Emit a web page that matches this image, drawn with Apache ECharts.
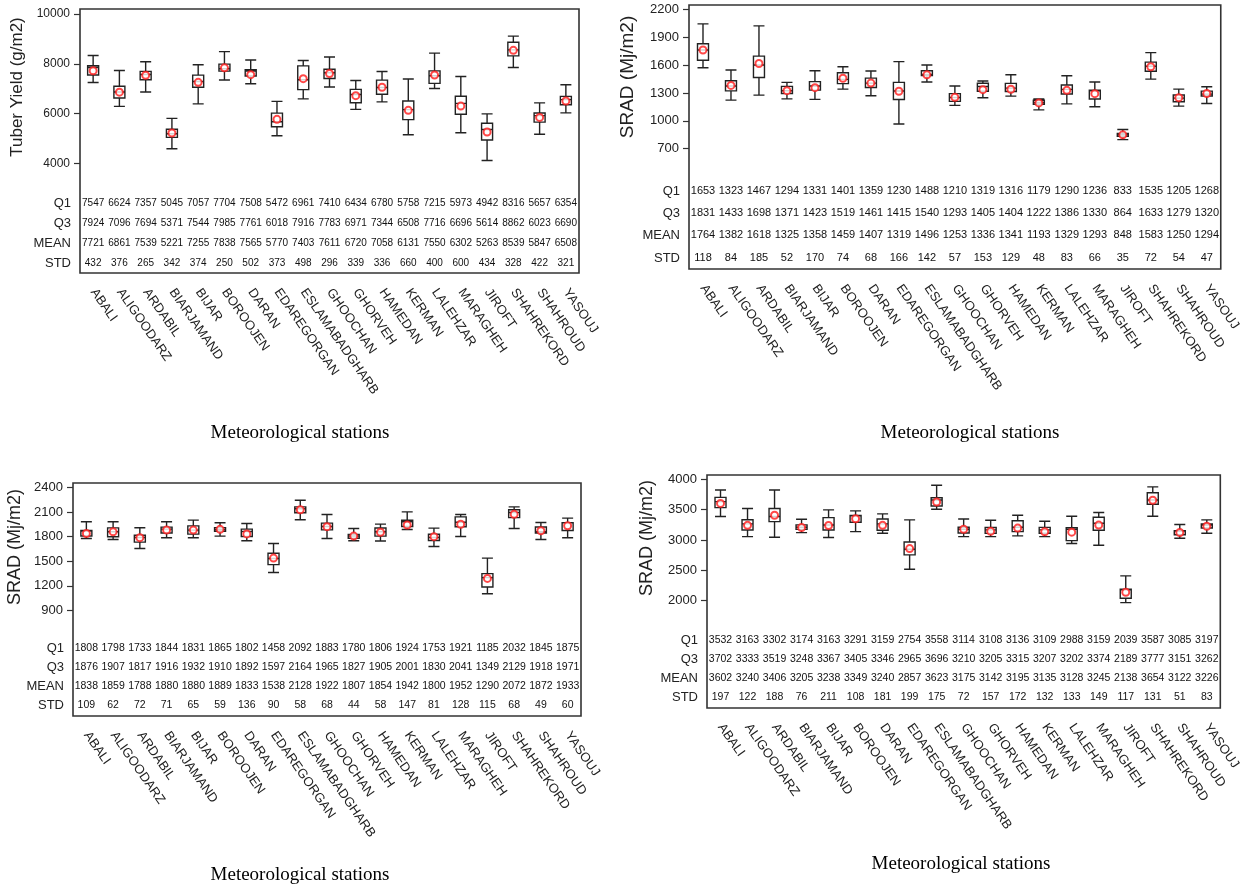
<!DOCTYPE html>
<html>
<head>
<meta charset="utf-8">
<script src="https://cdn.jsdelivr.net/npm/echarts@6/dist/echarts.min.js"></script>
<style>
    html, body { margin: 0; padding: 0; background: #fff; }
    #chart { width: 1243px; height: 888px; }
</style>
</head>
<body>
<div id="chart"></div>
<script>
    var stations = ['ABALI', 'ALIGOODARZ', 'ARDABIL', 'BIARJAMAND', 'BIJAR', 'BOROOJEN', 'DARAN', 'EDAREGORGAN',
        'ESLAMABADGHARB', 'GHOOCHAN', 'GHORVEH', 'HAMEDAN', 'KERMAN', 'LALEHZAR', 'MARAGHEH', 'JIROFT',
        'SHAHREKORD', 'SHAHROUD', 'YASOUJ'];
    var rowNames = ['Q1', 'Q3', 'MEAN', 'STD'];

    // panel 1 - tuber yield
    var yieldTicks = [4000, 6000, 8000, 10000];
    var yieldQ1 = [7547, 6624, 7357, 5045, 7057, 7704, 7508, 5472, 6961, 7410, 6434, 6780, 5758, 7215, 5973, 4942, 8316, 5657, 6354];
    var yieldQ3 = [7924, 7096, 7694, 5371, 7544, 7985, 7761, 6018, 7916, 7783, 6971, 7344, 6508, 7716, 6696, 5614, 8862, 6023, 6690];
    var yieldMean = [7721, 6861, 7539, 5221, 7255, 7838, 7565, 5770, 7403, 7611, 6720, 7058, 6131, 7550, 6302, 5263, 8539, 5847, 6508];
    var yieldStd = [432, 376, 265, 342, 374, 250, 502, 373, 498, 296, 339, 336, 660, 400, 600, 434, 328, 422, 321];
    var yieldMin = [7250, 6290, 6870, 4590, 6390, 7350, 7200, 5110, 6590, 7070, 6170, 6470, 5150, 7010, 5230, 4120, 7850, 5170, 6030];
    var yieldMed = [7850, 6870, 7570, 5190, 7290, 7800, 7710, 5670, 7360, 7640, 6770, 7050, 6160, 7520, 6410, 5360, 8560, 5920, 6560];
    var yieldMax = [8330, 7730, 8080, 5810, 7960, 8490, 8150, 6490, 8130, 8270, 7330, 7690, 7390, 8430, 7490, 5990, 9110, 6430, 7160];

    // panel 2 - SRAD (top right)
    var sradATicks = [700, 1000, 1300, 1600, 1900, 2200];
    var sradAQ1 = [1653, 1323, 1467, 1294, 1331, 1401, 1359, 1230, 1488, 1210, 1319, 1316, 1179, 1290, 1236, 833, 1535, 1205, 1268];
    var sradAQ3 = [1831, 1433, 1698, 1371, 1423, 1519, 1461, 1415, 1540, 1293, 1405, 1404, 1222, 1386, 1330, 864, 1633, 1279, 1320];
    var sradAMean = [1764, 1382, 1618, 1325, 1358, 1459, 1407, 1319, 1496, 1253, 1336, 1341, 1193, 1329, 1293, 848, 1583, 1250, 1294];
    var sradAStd = [118, 84, 185, 52, 170, 74, 68, 166, 142, 57, 153, 129, 48, 83, 66, 35, 72, 54, 47];
    var sradAMin = [1573, 1223, 1277, 1237, 1231, 1342, 1270, 966, 1418, 1166, 1248, 1266, 1118, 1183, 1151, 797, 1450, 1158, 1187];
    var sradAMed = [1765, 1375, 1602, 1324, 1375, 1447, 1407, 1321, 1501, 1252, 1370, 1353, 1198, 1339, 1324, 852, 1588, 1245, 1288];
    var sradAMax = [2046, 1548, 2025, 1415, 1540, 1584, 1537, 1639, 1602, 1375, 1429, 1497, 1237, 1486, 1418, 906, 1736, 1342, 1368];

    // panel 3 - SRAD (bottom left)
    var sradBTicks = [900, 1200, 1500, 1800, 2100, 2400];
    var sradBQ1 = [1808, 1798, 1733, 1844, 1831, 1865, 1802, 1458, 2092, 1883, 1780, 1806, 1924, 1753, 1921, 1185, 2032, 1845, 1875];
    var sradBQ3 = [1876, 1907, 1817, 1916, 1932, 1910, 1892, 1597, 2164, 1965, 1827, 1905, 2001, 1830, 2041, 1349, 2129, 1918, 1971];
    var sradBMean = [1838, 1859, 1788, 1880, 1880, 1889, 1833, 1538, 2128, 1922, 1807, 1854, 1942, 1800, 1952, 1290, 2072, 1872, 1933];
    var sradBStd = [109, 62, 72, 71, 65, 59, 136, 90, 58, 68, 44, 58, 147, 81, 128, 115, 68, 49, 60];
    var sradBMin = [1778, 1766, 1656, 1786, 1786, 1806, 1750, 1363, 2006, 1778, 1750, 1746, 1888, 1680, 1802, 1103, 1900, 1766, 1786];
    var sradBMed = [1867, 1859, 1790, 1892, 1880, 1888, 1863, 1534, 2140, 1924, 1806, 1859, 1981, 1790, 1975, 1300, 2095, 1859, 1969];
    var sradBMax = [1981, 1981, 1908, 1981, 2002, 1969, 1961, 1717, 2245, 2071, 1900, 1953, 2103, 1904, 2071, 1538, 2164, 1973, 2026];

    // panel 4 - SRAD (bottom right)
    var sradCTicks = [2000, 2500, 3000, 3500, 4000];
    var sradCQ1 = [3532, 3163, 3302, 3174, 3163, 3291, 3159, 2754, 3558, 3114, 3108, 3136, 3109, 2988, 3159, 2039, 3587, 3085, 3197];
    var sradCQ3 = [3702, 3333, 3519, 3248, 3367, 3405, 3346, 2965, 3696, 3210, 3205, 3315, 3207, 3202, 3374, 2189, 3777, 3151, 3262];
    var sradCMean = [3602, 3240, 3406, 3205, 3238, 3349, 3240, 2857, 3623, 3175, 3142, 3195, 3135, 3128, 3245, 2138, 3654, 3122, 3226];
    var sradCStd = [197, 122, 188, 76, 211, 108, 181, 199, 175, 72, 157, 172, 132, 133, 149, 117, 131, 51, 83];
    var sradCMin = [3385, 3055, 3044, 3121, 3039, 3137, 3110, 2517, 3506, 3055, 3055, 3066, 3055, 2940, 2912, 1967, 3390, 3028, 3110];
    var sradCMed = [3632, 3264, 3385, 3209, 3247, 3396, 3264, 2846, 3659, 3176, 3165, 3209, 3165, 3176, 3275, 2176, 3659, 3148, 3247];
    var sradCMax = [3824, 3517, 3824, 3341, 3495, 3478, 3429, 3330, 3901, 3346, 3324, 3407, 3308, 3390, 3451, 2407, 3874, 3253, 3330];

    var SANS = "'Liberation Sans', Arial, sans-serif";
    var SERIF = "'Liberation Serif', 'Times New Roman', serif";

    var panels = [
        {
            grid: {left: 80, top: 9, width: 499, height: 264}, min: -400, max: 10200, ticks: yieldTicks,
            name: 'Tuber Yield (g/m2)', nameX: 17, nameY: 87, nameSize: 17, tickSize: 12,
            rowOffsets: [-70, -50, -30, -10], tableSize: 10,
            table: [yieldQ1, yieldQ3, yieldMean, yieldStd],
            box: [yieldMin, yieldQ1, yieldMed, yieldQ3, yieldMax], mean: yieldMean,
            titleX: 300, titleY: 433
        },
        {
            grid: {left: 689, top: 5, width: 535, height: 264}, min: -600, max: 2250, ticks: sradATicks,
            name: 'SRAD (Mj/m2)', nameX: 628, nameY: 77, nameSize: 19, tickSize: 13,
            rowOffsets: [-78, -56, -34, -11], tableSize: 11,
            table: [sradAQ1, sradAQ3, sradAMean, sradAStd],
            box: [sradAMin, sradAQ1, sradAMed, sradAQ3, sradAMax], mean: sradAMean,
            titleX: 970, titleY: 433
        },
        {
            grid: {left: 73, top: 483, width: 508, height: 233}, min: -390, max: 2455, ticks: sradBTicks,
            name: 'SRAD (Mj/m2)', nameX: 15, nameY: 547, nameSize: 18, tickSize: 13,
            rowOffsets: [-68, -49, -30, -11], tableSize: 10.5,
            table: [sradBQ1, sradBQ3, sradBMean, sradBStd],
            box: [sradBMin, sradBQ1, sradBMed, sradBQ3, sradBMax], mean: sradBMean,
            titleX: 300, titleY: 875
        },
        {
            grid: {left: 707, top: 475, width: 518, height: 233}, min: 230, max: 4070, ticks: sradCTicks,
            name: 'SRAD (Mj/m2)', nameX: 647, nameY: 538, nameSize: 18, tickSize: 13,
            rowOffsets: [-68, -49, -30, -11], tableSize: 10.5,
            table: [sradCQ1, sradCQ3, sradCMean, sradCStd],
            box: [sradCMin, sradCQ1, sradCMed, sradCQ3, sradCMax], mean: sradCMean,
            titleX: 961, titleY: 864
        }
    ];

    var option = {animation: false, grid: [], xAxis: [], yAxis: [], series: [], graphic: []};

    panels.forEach(function (p, i) {
        option.grid.push(Object.assign({show: true, borderColor: '#333', borderWidth: 1.6}, p.grid));

        var mainX = option.xAxis.length;
        option.xAxis.push({
            type: 'category', gridIndex: i, data: stations, position: 'bottom',
            axisLine: {show: false, onZero: false},
            axisTick: {alignWithLabel: true, length: 7, lineStyle: {color: '#333', width: 1.5}},
            axisLabel: {interval: 0, rotate: -55, margin: 17, fontSize: 13, color: '#222', fontFamily: SANS}
        });
        // table rows under the boxes, drawn as extra category axes inside the frame
        rowNames.forEach(function (r, k) {
            option.xAxis.push({
                type: 'category', gridIndex: i, position: 'bottom', offset: p.rowOffsets[k],
                data: p.table[k],
                axisLine: {show: false, onZero: false}, axisTick: {show: false},
                axisLabel: {interval: 0, margin: 0, verticalAlign: 'middle', fontSize: p.tableSize, color: '#111', fontFamily: SANS},
                name: r, nameLocation: 'start', nameGap: 9,
                nameTextStyle: {fontSize: 13, color: '#222', fontFamily: SANS, verticalAlign: 'middle'}
            });
        });

        option.yAxis.push({
            type: 'value', gridIndex: i, min: p.min, max: p.max,
            splitLine: {show: false}, axisLine: {show: false},
            axisTick: {show: true, length: 6, customValues: p.ticks, lineStyle: {color: '#333', width: 1.2}},
            axisLabel: {
                customValues: p.ticks, fontSize: p.tickSize, color: '#222', margin: 10, fontFamily: SANS,
                formatter: function (v) { return String(v); }
            }
        });

        option.series.push({
            type: 'boxplot', xAxisIndex: mainX, yAxisIndex: i, boxWidth: [11, 11], z: 2,
            itemStyle: {color: '#fff', borderColor: '#222', borderWidth: 1.4},
            data: stations.map(function (s, j) {
                return [p.box[0][j], p.box[1][j], p.box[2][j], p.box[3][j], p.box[4][j]];
            })
        });
        option.series.push({
            type: 'scatter', xAxisIndex: mainX, yAxisIndex: i, z: 3,
            symbol: 'emptyCircle', symbolSize: 7,
            itemStyle: {color: '#ff1a1a', borderWidth: 1.6},
            data: p.mean
        });

        option.graphic.push({
            type: 'text', x: p.nameX, y: p.nameY, rotation: Math.PI / 2,
            style: {text: p.name, font: p.nameSize + 'px ' + SANS, fill: '#222', textAlign: 'center', textVerticalAlign: 'middle'}
        });
        option.graphic.push({
            type: 'text', x: p.titleX, y: p.titleY,
            style: {text: 'Meteorological stations', font: '19px ' + SERIF, fill: '#000', textAlign: 'center', textVerticalAlign: 'middle'}
        });
    });

    var chart = echarts.init(document.getElementById('chart'));
    chart.setOption(option);
</script>
</body>
</html>
